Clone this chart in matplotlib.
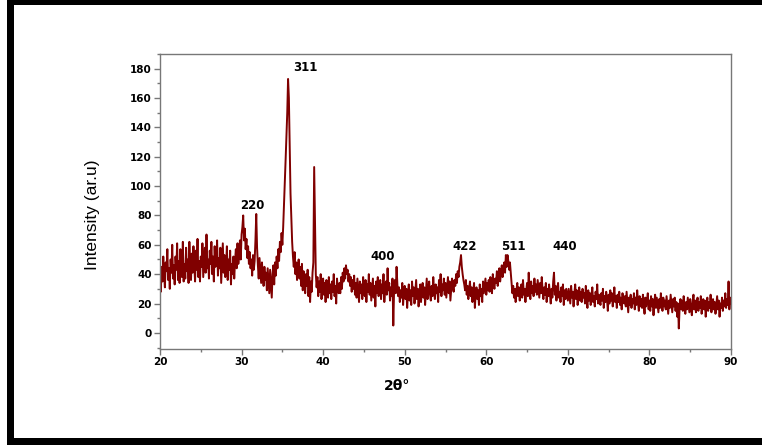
import numpy as np
import matplotlib
matplotlib.use("Agg")
import matplotlib.pyplot as plt
from matplotlib.patches import Rectangle
from matplotlib.ticker import MultipleLocator

# 2-theta from 20 to 90 in 0.1 degree steps; one row per degree
two_theta_start = 20.0
two_theta_step = 0.1
intensity = [
    38, 28, 45, 35, 52, 40, 31, 48, 42, 57,
    36, 44, 30, 50, 41, 60, 37, 46, 33, 52,
    43, 61, 36, 49, 34, 57, 44, 38, 62, 35,
    47, 37, 58, 42, 50, 34, 62, 45, 36, 54,
    41, 59, 46, 35, 56, 43, 64, 38, 49, 35,
    52, 45, 61, 38, 48, 58, 41, 67, 44, 50,
    37, 56, 47, 62, 40, 52, 35, 59, 45, 49,
    63, 39, 51, 44, 58, 34, 48, 61, 41, 53,
    38, 46, 59, 36, 50, 43, 56, 33, 47, 40,
    52, 37, 49, 57, 44, 61, 47, 53, 63, 50,
    67, 72, 80, 63, 71, 57, 64, 51, 59, 47,
    55, 44, 50, 39, 53, 43, 49, 63, 81, 58,
    46, 37, 51, 42, 34, 48, 39, 32, 45, 36,
    41, 29, 44, 35, 27, 43, 34, 24, 40, 46,
    33, 48, 39, 52, 44, 57, 49, 62, 55, 68,
    60, 72, 88, 102, 118, 133, 150, 173, 160, 128,
    95, 78, 62, 52, 45, 55, 40, 48, 36, 44,
    50, 37, 45, 32, 47, 29, 42, 35, 27, 40,
    32, 43, 25, 38, 21, 35, 28, 41, 48, 113,
    75, 40, 31, 38, 25, 35, 28, 40, 23, 33,
    37, 26, 34, 21, 36, 29, 24, 38, 27, 33,
    23, 35, 28, 40, 25, 32, 20, 37, 29, 27,
    34, 27, 38, 30, 41, 35, 44, 37, 46, 40,
    43, 35, 40, 32, 38, 28, 36, 30, 39, 26,
    34, 24, 37, 29, 21, 35, 27, 33, 23, 38,
    31, 25, 36, 21, 33, 28, 40, 26, 34, 22,
    30, 37, 24, 32, 18, 35, 27, 38, 25, 31,
    36, 23, 33, 27, 40, 21, 30, 35, 26, 44,
    29, 34, 22, 31, 25, 37, 5, 30, 36, 27,
    45, 33, 25, 31, 21, 29, 24, 34, 19, 28,
    32, 23, 30, 17, 27, 33, 22, 29, 19, 35,
    25, 31, 20, 28, 36, 23, 30, 18, 27, 33,
    21, 29, 34, 24, 31, 19, 28, 37, 23, 30,
    35, 26, 22, 32, 25, 38, 28, 23, 33, 27,
    31, 21, 36, 28, 40, 25, 33, 29, 37, 26,
    34, 24, 31, 38, 27, 35, 22, 30, 37, 31,
    28, 36, 32, 40, 34, 42, 38, 45, 48, 53,
    45, 40, 36, 33, 29, 36, 26, 32, 23, 30,
    35, 25, 31, 21, 28, 34, 17, 27, 31, 23,
    29, 19, 33, 25, 30, 21, 35, 27, 32, 37,
    26, 34, 29, 36, 28, 38, 31, 27, 40, 33,
    30, 37, 34, 42, 32, 39, 44, 35, 41, 46,
    38, 45, 48, 41, 53, 45, 53, 49, 43, 48,
    41, 34, 27, 32, 24, 30, 21, 29, 34, 25,
    31, 22, 28, 33, 24, 36, 26, 30, 21, 29,
    34, 25, 41, 30, 23, 35, 27, 32, 25, 37,
    28, 33, 26, 36, 30, 24, 34, 27, 38, 29,
    23, 31, 26, 34, 21, 30, 25, 33, 27, 20,
    30, 24, 35, 41, 26, 32, 22, 29, 34, 24,
    28, 21, 31, 25, 33, 19, 29, 23, 30, 26,
    22, 30, 25, 20, 32, 24, 28, 18, 27, 33,
    23, 29, 19, 26, 31, 22, 28, 21, 30, 24,
    27, 20, 32, 23, 17, 29, 22, 27, 19, 26,
    31, 21, 25, 18, 28, 23, 33, 20, 26, 22,
    19, 27, 22, 30, 17, 25, 21, 28, 23, 15,
    26, 20, 29, 22, 27, 18, 24, 31, 21, 25,
    17, 26, 21, 28, 19, 24, 16, 27, 22, 20,
    25, 18, 28, 21, 14, 24, 19, 26, 17, 23,
    20, 27, 16, 24, 19, 29, 21, 15, 25, 18,
    23, 17, 26, 20, 13, 24, 18, 22, 27, 16,
    22, 15, 25, 18, 23, 12, 21, 26, 17, 24,
    19, 14, 23, 17, 27, 20, 15, 24, 18, 22,
    16, 25, 19, 13, 22, 17, 26, 20, 14, 23,
    18, 24, 15, 21, 11, 20, 3, 17, 23, 16,
    22, 15, 25, 18, 13, 21, 16, 24, 19, 14,
    23, 17, 12, 21, 26, 16, 22, 14, 20, 24,
    15, 21, 17, 25, 13, 20, 23, 16, 22, 11,
    19, 24, 15, 21, 17, 26, 14, 20, 23, 16,
    21, 13, 19, 25, 16, 22, 11, 20, 17, 24,
    15, 22, 18, 27, 17, 23, 19, 35, 16, 24,
    20,
]
two_theta = two_theta_start + two_theta_step * np.arange(len(intensity))

peak_labels = ["220", "311", "400", "422", "511", "440"]
peak_x = [31.3, 37.8, 47.3, 57.4, 63.3, 69.6]
peak_y = [87, 181, 52, 59, 59, 59]

x_ticks = [20, 30, 40, 50, 60, 70, 80, 90]
y_ticks = [0, 20, 40, 60, 80, 100, 120, 140, 160, 180]

W, H = 762, 446
fig = plt.figure(figsize=(W / 100, H / 100), dpi=100)
fig.patch.set_facecolor("white")

# outer black frame
for (x0, y0, x1, y1) in [(7, 0, 14, 445), (7, 0, 762, 5), (7, 438, 762, 445)]:
    fig.add_artist(Rectangle((x0 / W, 1 - y1 / H), (x1 - x0) / W, (y1 - y0) / H,
                             transform=fig.transFigure, facecolor="black",
                             edgecolor="none"))

ax = fig.add_axes([160 / W, 1 - 349 / H, (731 - 160) / W, (349 - 54) / H])
ax.plot(two_theta, intensity, color="#800000", lw=1.4)

ax.set_xlim(20, 90)
ax.set_ylim(-11, 190)
ax.set_xticks(x_ticks)
ax.set_yticks(y_ticks)
ax.xaxis.set_minor_locator(MultipleLocator(5))
ax.yaxis.set_minor_locator(MultipleLocator(10))

spine_col = "#777777"
for s in ax.spines.values():
    s.set_color(spine_col)
    s.set_linewidth(1.0)
ax.tick_params(which="both", direction="out", color=spine_col, top=False, right=False)
ax.tick_params(which="major", length=4, width=1, pad=2)
ax.tick_params(which="minor", length=2.5, width=1)
for lab in ax.get_xticklabels() + ax.get_yticklabels():
    lab.set_fontfamily("DejaVu Sans")
    lab.set_fontweight("bold")
    lab.set_fontsize(7.5)

ax.set_xlabel("2θ°", fontsize=10, fontweight="bold", family="DejaVu Sans", va="center")
ax.xaxis.set_label_coords((397 - 160) / 571, -(386 - 349) / 295)
ax.set_ylabel("Intensity (ar.u)", fontsize=12.5, family="Liberation Sans", va="center")
ax.yaxis.set_label_coords((93 - 160) / 571, (349 - 215) / 295)

for lab, x, y in zip(peak_labels, peak_x, peak_y):
    ax.text(x, y, lab, ha="center", va="center", fontsize=8.5, fontweight="bold",
            family="DejaVu Sans")

fig.savefig("out.png", dpi=100)
